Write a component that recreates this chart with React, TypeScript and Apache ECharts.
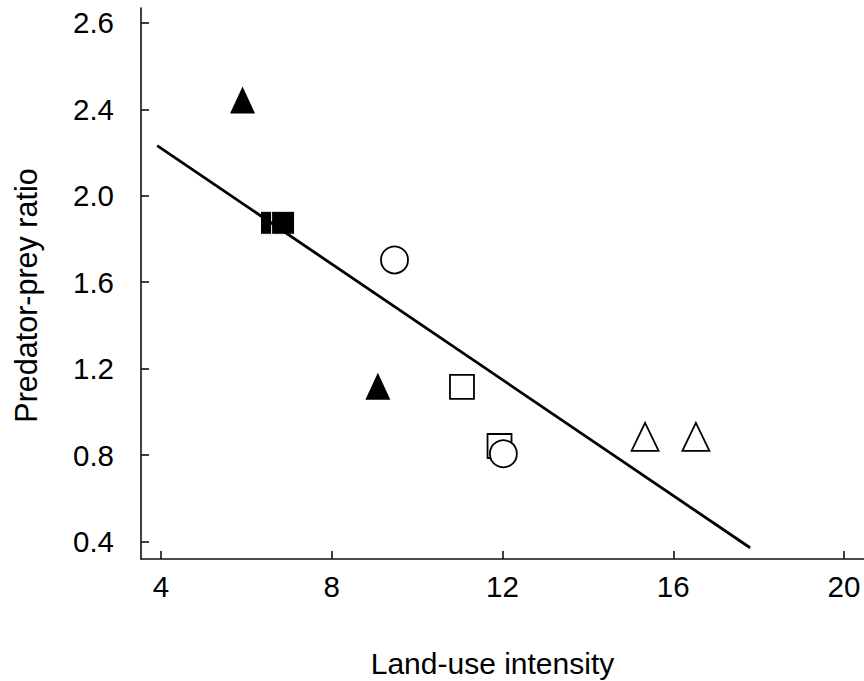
import React, { useEffect, useRef } from "react";
import * as echarts from "echarts";

// Data
const filledTriangles: [number, number][] = [
  [5.91, 2.443],
  [9.08, 1.119],
];
const filledSquares: [number, number][] = [
  [6.6, 1.875],
  [6.86, 1.875],
];
const openSquares: [number, number][] = [
  [11.05, 1.116],
  [11.93, 0.842],
];
const openCircles: [number, number][] = [
  [9.47, 1.703],
  [12.02, 0.806],
];
const openTriangles: [number, number][] = [
  [15.34, 0.884],
  [16.53, 0.884],
];
const fitLine: [number, number][] = [
  [3.91, 2.232],
  [17.8, 0.371],
];

const xTickValues = [4, 8, 12, 16, 20];
const xTickLabels = ["4", "8", "12", "16", "20"];
const yTickValues = [0.4, 0.8, 1.2, 1.6, 2.0, 2.4, 2.8];
const yTickLabels = ["0.4", "0.8", "1.2", "1.6", "2.0", "2.4", "2.6"];

const xName = "Land-use intensity";
const yName = "Predator-prey ratio";

const FONT = "'Liberation Sans', Arial, Helvetica, sans-serif";

function labelFor(values: number[], labels: string[], v: number): string {
  for (let i = 0; i < values.length; i++) {
    if (Math.abs(values[i] - v) < 1e-6) return labels[i];
  }
  return "";
}

export default function App() {
  const ref = useRef<HTMLDivElement>(null);
  useEffect(() => {
    if (!ref.current) return;
    const chart = echarts.init(ref.current, undefined, { renderer: "svg" });
    const axisLine = { show: true, lineStyle: { color: "#111", width: 1.6 } };
    const openStyle = { color: "#fff", borderColor: "#000", borderWidth: 1.8, opacity: 1 };
    const filledStyle = { color: "#000", borderColor: "#fff", borderWidth: 1, opacity: 1 };
    chart.setOption({
      animation: false,
      backgroundColor: "#fff",
      grid: {
        left: 141,
        right: 0,
        top: 8,
        bottom: 122,
        containLabel: false,
        outerBoundsMode: "none",
      },
      xAxis: {
        type: "value",
        min: 3.531,
        max: 20.468,
        name: xName,
        nameLocation: "middle",
        nameGap: 89,
        nameTextStyle: {
          fontFamily: FONT,
          fontSize: 30,
          color: "#000",
          padding: [0, 20, 0, 0],
        },
        axisLine,
        splitLine: { show: false },
        axisTick: {
          show: true,
          inside: true,
          length: 8,
          customValues: xTickValues,
          lineStyle: { color: "#111", width: 1.6 },
        },
        axisLabel: {
          customValues: xTickValues,
          margin: 12,
          fontFamily: FONT,
          fontSize: 29.5,
          color: "#000",
          formatter: (v: number) => labelFor(xTickValues, xTickLabels, v),
        },
      },
      yAxis: {
        type: "value",
        min: 0.319,
        max: 2.869,
        name: yName,
        nameLocation: "middle",
        nameGap: 100,
        nameTextStyle: {
          fontFamily: FONT,
          fontSize: 30.5,
          color: "#000",
          padding: [0, 24, 0, 0],
        },
        axisLine,
        splitLine: { show: false },
        axisTick: {
          show: true,
          inside: true,
          length: 8,
          customValues: yTickValues,
          lineStyle: { color: "#111", width: 1.6 },
        },
        axisLabel: {
          customValues: yTickValues,
          margin: 27,
          fontFamily: FONT,
          fontSize: 29.5,
          color: "#000",
          formatter: (v: number) => labelFor(yTickValues, yTickLabels, v),
        },
      },
      series: [
        {
          type: "line",
          data: fitLine,
          symbol: "none",
          lineStyle: { color: "#000", width: 2.8 },
          silent: true,
        },
        {
          type: "scatter",
          data: filledTriangles,
          symbol: "triangle",
          symbolSize: [25, 27],
          itemStyle: { color: "#000", opacity: 1 },
        },
        {
          type: "scatter",
          data: filledSquares,
          symbol: "rect",
          symbolSize: 23,
          itemStyle: filledStyle,
        },
        {
          type: "scatter",
          data: openSquares,
          symbol: "rect",
          symbolSize: 24,
          itemStyle: openStyle,
        },
        {
          type: "scatter",
          data: openCircles,
          symbol: "circle",
          symbolSize: 27,
          itemStyle: openStyle,
        },
        {
          type: "scatter",
          data: openTriangles,
          symbol: "triangle",
          symbolSize: [27, 28],
          itemStyle: openStyle,
        },
      ],
    });
    return () => chart.dispose();
  }, []);
  return (
    <div
      ref={ref}
      style={{ position: "fixed", left: 0, top: 0, width: 864, height: 681, background: "#fff" }}
    />
  );
}
